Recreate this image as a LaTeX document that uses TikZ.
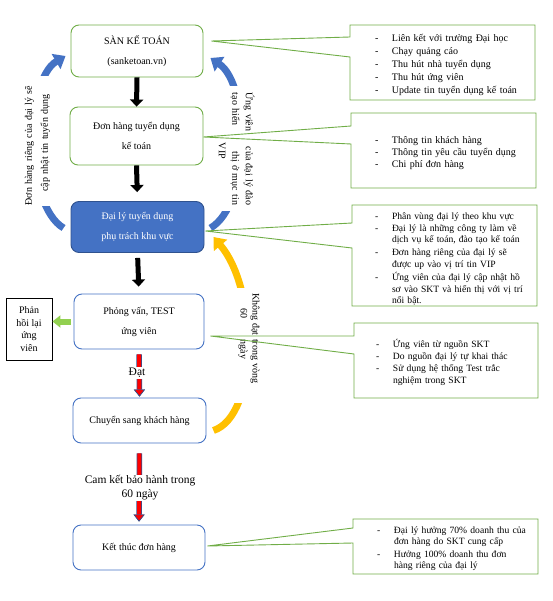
\documentclass[tikz,border=0pt]{standalone}
\usepackage{fontspec}
\setmainfont{Liberation Serif}
\usetikzlibrary{arrows.meta,calc}

\definecolor{grnline}{HTML}{70AD47}
\definecolor{offblue}{HTML}{4472C4}
\definecolor{bluedk}{HTML}{2F528F}
\definecolor{yelarc}{HTML}{FFC000}
\definecolor{lightgrn}{HTML}{92D050}

% bullet lines of the notes: ragged and justified
\newcommand{\dongitem}[1]{\par\noindent\makebox[17pt][l]{-}\parbox[t]{\dimexpr\hsize-17pt}{\raggedright\strut#1\strut}}
\newcommand{\dongitemj}[1]{\par\noindent\makebox[17pt][l]{-}\parbox[t]{\dimexpr\hsize-17pt}{\strut#1\strut}}

\begin{document}
\begin{tikzpicture}[x=1pt,y=-1pt,
    mainbox/.style={draw=grnline, line width=0.9pt, rounded corners=8pt, fill=white,
      minimum width=132pt, align=center, font=\fontsize{10}{20}\selectfont},
    bluebox/.style={mainbox, draw=offblue},
    agentbox/.style={mainbox, draw=bluedk, fill=offblue, text=white},
    blkarrow/.style={line width=5pt, -{Triangle[length=7pt,width=13pt]}},
    redarrow/.style={draw=red, line width=4pt,
      preaction={draw=bluedk, line width=5.4pt},
      -{Triangle[length=7pt,width=11pt,line width=0.6pt,color=bluedk,fill=red]}},
    grnarrow/.style={draw=lightgrn, line width=6pt, -{Triangle[length=8pt,width=12pt]}},
    bluearc/.style={draw=offblue, line width=7pt, -{Triangle[length=11pt,width=17pt]}},
    yelarrow/.style={draw=yelarc, line width=7pt, -{Triangle[length=11pt,width=17pt]}},
    rottext/.style={fill=white, inner sep=1pt, align=left, font=\fontsize{10}{14}\selectfont},
    callout/.style={draw=grnline, line width=0.9pt},
    calltext/.style={inner sep=0pt, text width=155pt, align=left, font=\fontsize{9.6}{11.8}\selectfont}]
    \useasboundingbox (0,0) rectangle (552,601);

    % Drawing main column boxes
    \node[mainbox, minimum height=52pt] (san) at (137,51) {SÀN KẾ TOÁN\\(sanketoan.vn)};
    \node[mainbox, minimum height=58pt, minimum width=133pt] (don) at (136.5,136) {Đơn hàng tuyển dụng\\kế toán};
    \node[agentbox, minimum height=51pt, minimum width=133pt] (daily) at (137.5,227) {Đại lý tuyển dụng\\phụ trách khu vực};
    \node[bluebox, minimum height=55pt, minimum width=130pt] (phongvan) at (139,321.5) {Phỏng vấn, TEST\\ứng viên};
    \node[bluebox, minimum height=45pt, minimum width=133pt] (chuyen) at (139.5,420.5) {Chuyển sang khách hàng};
    \node[bluebox, minimum height=45pt] (ketthuc) at (139,547.5) {Kết thúc đơn hàng};

    % Drawing feedback box
    \node[draw, line width=0.9pt, minimum width=46pt, minimum height=62pt, align=center,
      font=\fontsize{10}{12.5}\selectfont] (phanhoi) at (29,329) {Phản\\hồi lại\\ứng\\viên};

    % Drawing arrows down the column
    \draw[blkarrow] (san.south) -- (don.north);
    \draw[blkarrow, shorten >=9pt] (don.south) -- (daily.north);
    \draw[blkarrow, shorten <=5pt, shorten >=7pt] (daily.south) -- (phongvan.north);
    \draw[redarrow, shorten <=5pt, shorten >=1pt] (phongvan.south) -- (chuyen.north);
    \node[fill=white, inner sep=1pt, font=\fontsize{11.5}{14}\selectfont] (dat) at (137,373) {Đạt};
    \draw[redarrow, shorten <=10pt, shorten >=3pt] (chuyen.south) -- (ketthuc.north);
    \node[fill=white, inner sep=1pt, align=center, font=\fontsize{11.5}{14}\selectfont] (camket) at (140,488)
      {Cam kết bảo hành trong\\60 ngày};
    \draw[grnarrow, shorten <=3pt] (phongvan.west) -- (phongvan.west -| phanhoi.east);

    % Drawing curved arrows
    \draw[bluearc] ($(daily.west)+(-7,1)$) .. controls +(-39,-23) and +(-41,24) .. ($(san.west)+(-5,5)$);
    \draw[bluearc] ($(daily.east)+(6,1)$) .. controls +(40,-23) and +(40,27) .. ($(san.east)+(7,7)$);
    \draw[yelarrow] ($(chuyen.east)+(7,10)$) .. controls +(45,-15) and +(45,53) .. ($(daily.east)+(9,10)$);

    % Labels on the curved arrows
    \node[rottext, rotate=90, text width=128pt, minimum width=128pt, font=\fontsize{10}{16}\selectfont] (lblleft) at (37.5,141.5)
      {Đơn hàng riêng của đại lý sẽ\\\hspace*{14pt}cập nhật tin tuyển dụng};
    \node[rottext, rotate=-90, text width=112pt, minimum width=125pt, font=\fontsize{10}{13.5}\selectfont] (lblright) at (236.5,149)
      {Ứng viên\hfill của đại lý đào\\tạo hiển\hfill thị ở mục tin\\\hspace*{50pt}VIP};
    \node[rottext, rotate=-90, text width=105pt, minimum width=115pt, minimum height=30pt, font=\fontsize{10}{12}\selectfont] (lblyel) at (249,345.5)
      {Không đạt trong vòng\\\hspace*{15pt}60\hspace{22pt}ngày};

    % Drawing callout 1
    \coordinate (tip1) at ($(san.east)+(8,-10)$);
    \draw[callout] (tip1) -- (350,37) -- (350,25) -- (535,25) -- (535,100) -- (350,100) -- (350,57) -- cycle;
    \node[calltext, font=\fontsize{10}{13}\selectfont] (note1) at (452.5,62.5)
      {\dongitem{Liên kết với trường Đại học}\dongitem{Chạy quảng cáo}\dongitem{Thu hút nhà tuyển dụng}%
       \dongitem{Thu hút ứng viên}\dongitem{Update tin tuyển dụng kế toán}};

    % Drawing callout 2
    \coordinate (tip2) at ($(don.east)+(0,1)$);
    \draw[callout] (tip2) -- (351,126) -- (351,113) -- (536,113) -- (536,188) -- (351,188) -- (351,144) -- cycle;
    \node[calltext, font=\fontsize{10}{12}\selectfont] (note2) at (452.5,151)
      {\dongitem{Thông tin khách hàng}\dongitem{Thông tin yêu cầu tuyển dụng}\dongitem{Chi phí đơn hàng}};

    % Drawing callout 3
    \coordinate (tip3) at ($(daily.east)+(1,4)$);
    \draw[callout] (tip3) -- (352,223) -- (352,205) -- (537,205) -- (537,306) -- (352,306) -- (352,248) -- cycle;
    \node[calltext, text width=154pt] (note3) at (452,257.5)
      {\dongitemj{Phân vùng đại lý theo khu vực}%
       \dongitemj{Đại lý là những công ty làm về\linebreak dịch vụ kế toán, đào tạo kế toán}%
       \dongitemj{Đơn hàng riêng của đại lý sẽ\linebreak được up vào vị trí tin VIP}%
       \dongitemj{Ứng viên của đại lý cập nhật hồ\linebreak sơ vào SKT và hiển thị với vị trí\linebreak nổi bật.}};

    % Drawing callout 4
    \coordinate (tip4) at ($(phongvan.east)+(6,14.5)$);
    \draw[callout] (tip4) -- (354,336) -- (354,323) -- (538,323) -- (538,398) -- (354,398) -- (354,354) -- cycle;
    \node[calltext] (note4) at (453.5,361.5)
      {\dongitem{Ứng viên từ nguồn SKT}\dongitem{Do nguồn đại lý tự khai thác}%
       \dongitem{Sử dụng hệ thống Test trắc\\nghiệm trong SKT}};

    % Drawing callout 5
    \coordinate (tip5) at ($(ketthuc.east)+(2,-1.5)$);
    \draw[callout] (tip5) -- (353,528) -- (353,519) -- (538,519) -- (538,574) -- (353,574) -- (353,543) -- cycle;
    \node[calltext, font=\fontsize{9.6}{11.3}\selectfont] (note5) at (454.5,547)
      {\dongitem{Đại lý hưởng 70\% doanh thu của\\đơn hàng do SKT cung cấp}%
       \dongitem{Hưởng 100\% doanh thu đơn\\hàng riêng của đại lý}};
\end{tikzpicture}
\end{document}
